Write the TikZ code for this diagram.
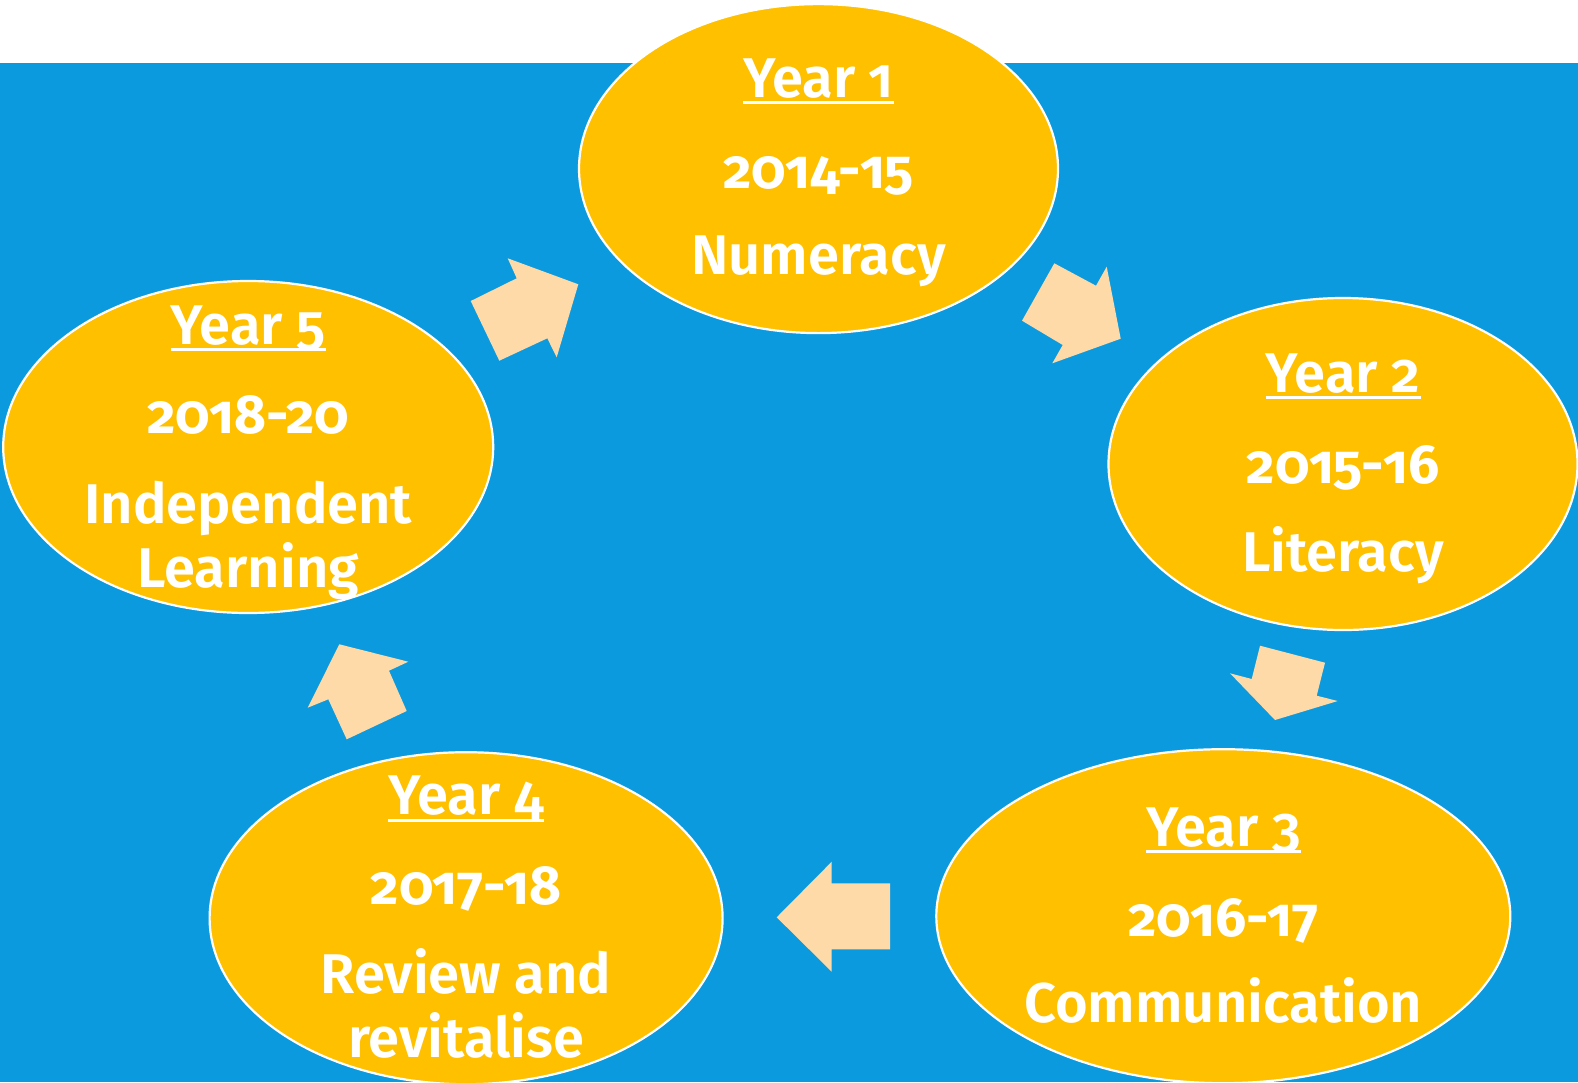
\documentclass[tikz,border=0pt]{standalone}
\usepackage{fontspec}
\setmainfont{Fira Sans}[Numbers=OldStyle]
\newfontfamily\semifont{Fira Sans SemiBold}[Numbers=OldStyle]
\usetikzlibrary{shapes.geometric}
\definecolor{bgblue}{HTML}{0C9ADE}
\definecolor{yel}{HTML}{FFC000}
\definecolor{peach}{HTML}{FDDAA7}
\tikzset{
  ell/.style={ellipse, fill=yel, draw=white, line width=2.2pt, inner sep=0pt},
  blockarrow/.style={fill=peach, draw=none},
  yr/.style={anchor=base, text=white, font=\fontsize{56}{60}\selectfont\semifont, inner sep=0pt},
  dt/.style={anchor=base, text=white, font=\fontsize{55}{60}\selectfont\bfseries, inner sep=0pt},
  tp/.style={anchor=base, text=white, font=\fontsize{56}{63}\selectfont\semifont, inner sep=0pt},
  ul/.style={draw=white, line width=3pt}
}
\begin{document}
\begin{tikzpicture}[x=1pt,y=-1pt]
\useasboundingbox (0,0) rectangle (1578,1082);
\fill[white] (0,0) rectangle (1578,63.4);
\fill[bgblue] (0,63.4) rectangle (1578,1082);

% ellipses
\node[ell, minimum width=479pt, minimum height=329pt] (e1) at (818.5,168.6) {};
\node[ell, minimum width=469pt, minimum height=332pt] (e2) at (1343,464) {};
\node[ell, minimum width=574pt, minimum height=334pt] (e3) at (1223.3,916.2) {};
\node[ell, minimum width=513pt, minimum height=332pt] (e4) at (466.1,918.2) {};
\node[ell, minimum width=490pt, minimum height=332pt] (e5) at (248.2,447) {};

% arrows
\fill[blockarrow] (499.3,360.7) -- (470.7,301) -- (516.7,278.3) -- (507.7,258.3) -- (578.3,284.3) -- (556.7,357.3) -- (547.3,338.3) -- cycle;
\fill[blockarrow] (1054.3,263.3) -- (1096,285.7) -- (1106.7,266.7) -- (1120.7,338.7) -- (1052.3,363.3) -- (1062.7,345) -- (1022,320.7) -- cycle;
\fill[blockarrow] (1260,645.7) -- (1325,662.7) -- (1316.7,695.7) -- (1337.7,701) -- (1275,720) -- (1230,673.3) -- (1251.7,679) -- cycle;
\fill[blockarrow] (776.7,917.3) -- (831.7,861.7) -- (831.7,883.3) -- (890,883.3) -- (890,949.3) -- (831.7,949.3) -- (831.7,971.7) -- cycle;
\fill[blockarrow] (339.3,644.3) -- (408.3,661.7) -- (389,670.7) -- (406.7,711) -- (346.7,739.3) -- (328.3,699.3) -- (307.7,707.7) -- cycle;

% Year 1
\node[yr] (y1) at (818.5,97.7) {Year 1};
\draw[ul] ([yshift=-5pt]y1.base west) -- ([yshift=-5pt]y1.base east);
\node[dt] (d1) at (818.5,188.3) {2014-15};
\node[tp] (t1) at (818.5,274.9) {Numeracy};
% Year 2
\node[yr] (y2) at (1343,392.7) {Year 2};
\draw[ul] ([yshift=-5pt]y2.base west) -- ([yshift=-5pt]y2.base east);
\node[dt] (d2) at (1343,483.3) {2015-16};
\node[tp] (t2) at (1343,571.9) {Literacy};
% Year 3
\node[yr] (y3) at (1223.3,846.7) {Year 3};
\draw[ul] ([yshift=-5pt]y3.base west) -- ([yshift=-5pt]y3.base east);
\node[dt] (d3) at (1223.3,936.3) {2016-17};
\node[tp] (t3) at (1223.3,1022.9) {Communication};
% Year 4
\node[yr] (y4) at (466.1,814.5) {Year 4};
\draw[ul] ([yshift=-6pt]y4.base west) -- ([yshift=-6pt]y4.base east);
\node[dt] (d4) at (466.1,904.1) {2017-18};
\node[tp] (t4a) at (466.1,993.7) {Review and};
\node[tp] (t4b) at (466.1,1057.1) {revitalise};
% Year 5
\node[yr] (y5) at (248.2,344.3) {Year 5};
\draw[ul] ([yshift=-5pt]y5.base west) -- ([yshift=-5pt]y5.base east);
\node[dt] (d5) at (248.2,433.9) {2018-20};
\node[tp] (t5a) at (248.2,523.5) {Independent};
\node[tp] (t5b) at (248.2,587) {Learning};
\end{tikzpicture}
\end{document}
